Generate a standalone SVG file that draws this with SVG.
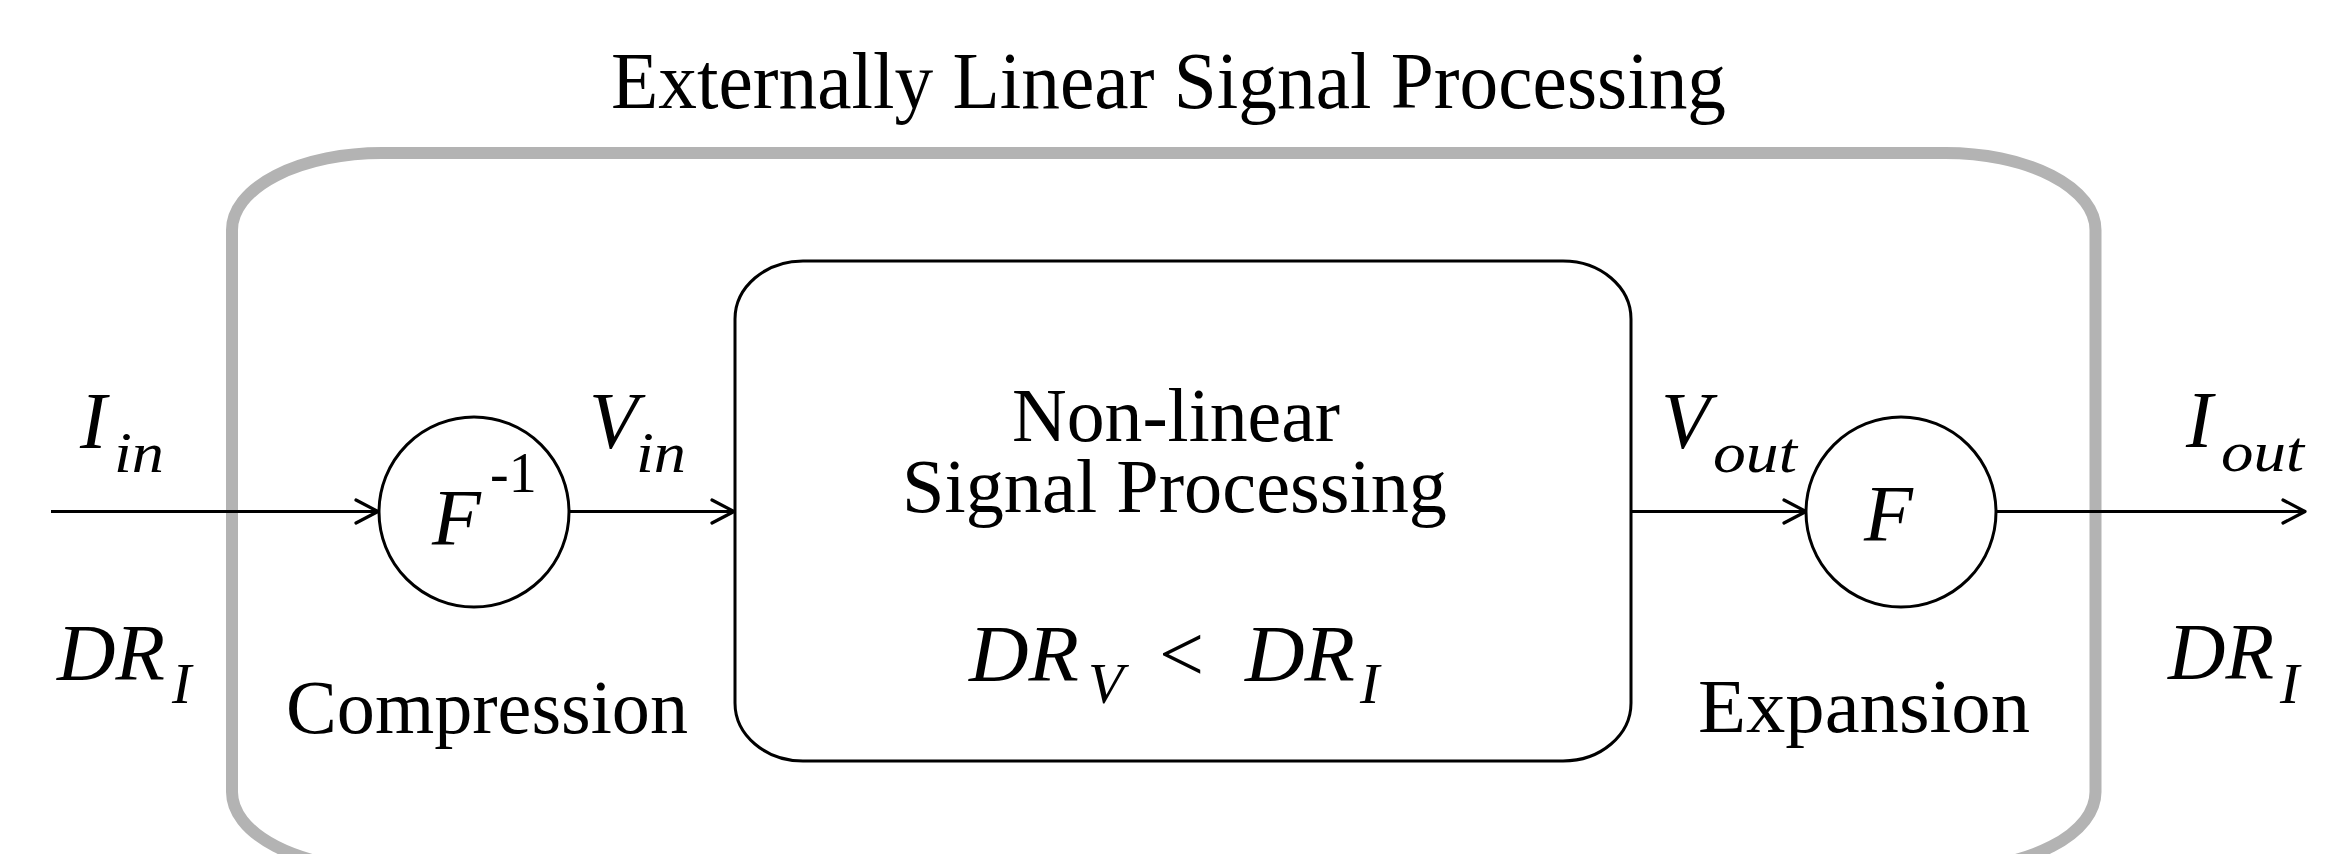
<svg xmlns="http://www.w3.org/2000/svg" width="2326" height="854" viewBox="0 0 2326 854">
<style>
.rm{font-family:"Liberation Serif","Times New Roman",serif;fill:#000}
.it{font-family:"Liberation Serif","Times New Roman",serif;font-style:italic;fill:#000}
.ln{fill:none;stroke:#000;stroke-width:3}
.node{fill:#fff;stroke:#000;stroke-width:3}
</style>
<defs>
<marker id="arr" markerUnits="userSpaceOnUse" viewBox="-26 -16 30 32" refX="0" refY="0" markerWidth="30" markerHeight="32" orient="auto">
<path d="M -22 -11.5 L 0 0 L -22 11.5" fill="none" stroke="#000" stroke-width="3.2" stroke-linecap="round" stroke-linejoin="round"/>
</marker>
</defs>
<rect width="2326" height="854" fill="#fff"/>
<g id="outer">
<rect x="232" y="153" width="1863.5" height="716" rx="150" ry="77" fill="none" stroke="#b3b3b3" stroke-width="12"/>
<text class="rm" x="611" y="108" font-size="80" textLength="1115" lengthAdjust="spacingAndGlyphs">Externally Linear Signal Processing</text>
</g>
<g id="connectors">
<path class="ln" d="M 51 511.5 H 378" marker-end="url(#arr)"/>
<path class="ln" d="M 569 511.5 H 734" marker-end="url(#arr)"/>
<path class="ln" d="M 1631 511.5 H 1806" marker-end="url(#arr)"/>
<path class="ln" d="M 1996 511.5 H 2305" marker-end="url(#arr)"/>
</g>
<g id="input-labels">
<text class="it" x="80" y="448" font-size="80">I</text>
<text class="it" x="114" y="472" font-size="58" textLength="50" lengthAdjust="spacingAndGlyphs">in</text>
<text class="it" x="57" y="680" font-size="80" textLength="108" lengthAdjust="spacingAndGlyphs">DR</text>
<text class="it" x="172" y="703" font-size="58">I</text>
</g>
<g id="compression">
<circle class="node" cx="474" cy="512" r="95"/>
<text class="it" x="432" y="545" font-size="80">F</text>
<text class="rm" x="490" y="492" font-size="56">-1</text>
<text class="rm" x="286" y="733" font-size="77" textLength="402" lengthAdjust="spacingAndGlyphs">Compression</text>
</g>
<g id="vin-label">
<text class="it" x="589" y="448" font-size="80">V</text>
<text class="it" x="636" y="472" font-size="58" textLength="50" lengthAdjust="spacingAndGlyphs">in</text>
</g>
<g id="nonlinear">
<rect class="node" x="735" y="261" width="896" height="500" rx="68" ry="58"/>
<text class="rm" x="1012" y="441" font-size="77" textLength="328" lengthAdjust="spacingAndGlyphs">Non-linear</text>
<text class="rm" x="902" y="512" font-size="77" textLength="545" lengthAdjust="spacingAndGlyphs">Signal Processing</text>
<text class="it" x="969" y="681" font-size="80" textLength="110" lengthAdjust="spacingAndGlyphs">DR</text>
<text class="it" x="1088" y="703" font-size="58">V</text>
<text class="rm" x="1159" y="681" font-size="80">&lt;</text>
<text class="it" x="1245" y="681" font-size="80" textLength="110" lengthAdjust="spacingAndGlyphs">DR</text>
<text class="it" x="1360" y="703" font-size="58">I</text>
</g>
<g id="vout-label">
<text class="it" x="1661" y="448" font-size="80">V</text>
<text class="it" x="1713" y="472" font-size="58" textLength="84" lengthAdjust="spacingAndGlyphs">out</text>
</g>
<g id="expansion">
<circle class="node" cx="1901" cy="512" r="95"/>
<text class="it" x="1864" y="541" font-size="80">F</text>
<text class="rm" x="1698" y="732" font-size="77" textLength="332" lengthAdjust="spacingAndGlyphs">Expansion</text>
</g>
<g id="output-labels">
<text class="it" x="2186" y="447" font-size="80">I</text>
<text class="it" x="2221" y="471" font-size="58" textLength="83" lengthAdjust="spacingAndGlyphs">out</text>
<text class="it" x="2168" y="679" font-size="80" textLength="106" lengthAdjust="spacingAndGlyphs">DR</text>
<text class="it" x="2280" y="703" font-size="58">I</text>
</g>
</svg>
